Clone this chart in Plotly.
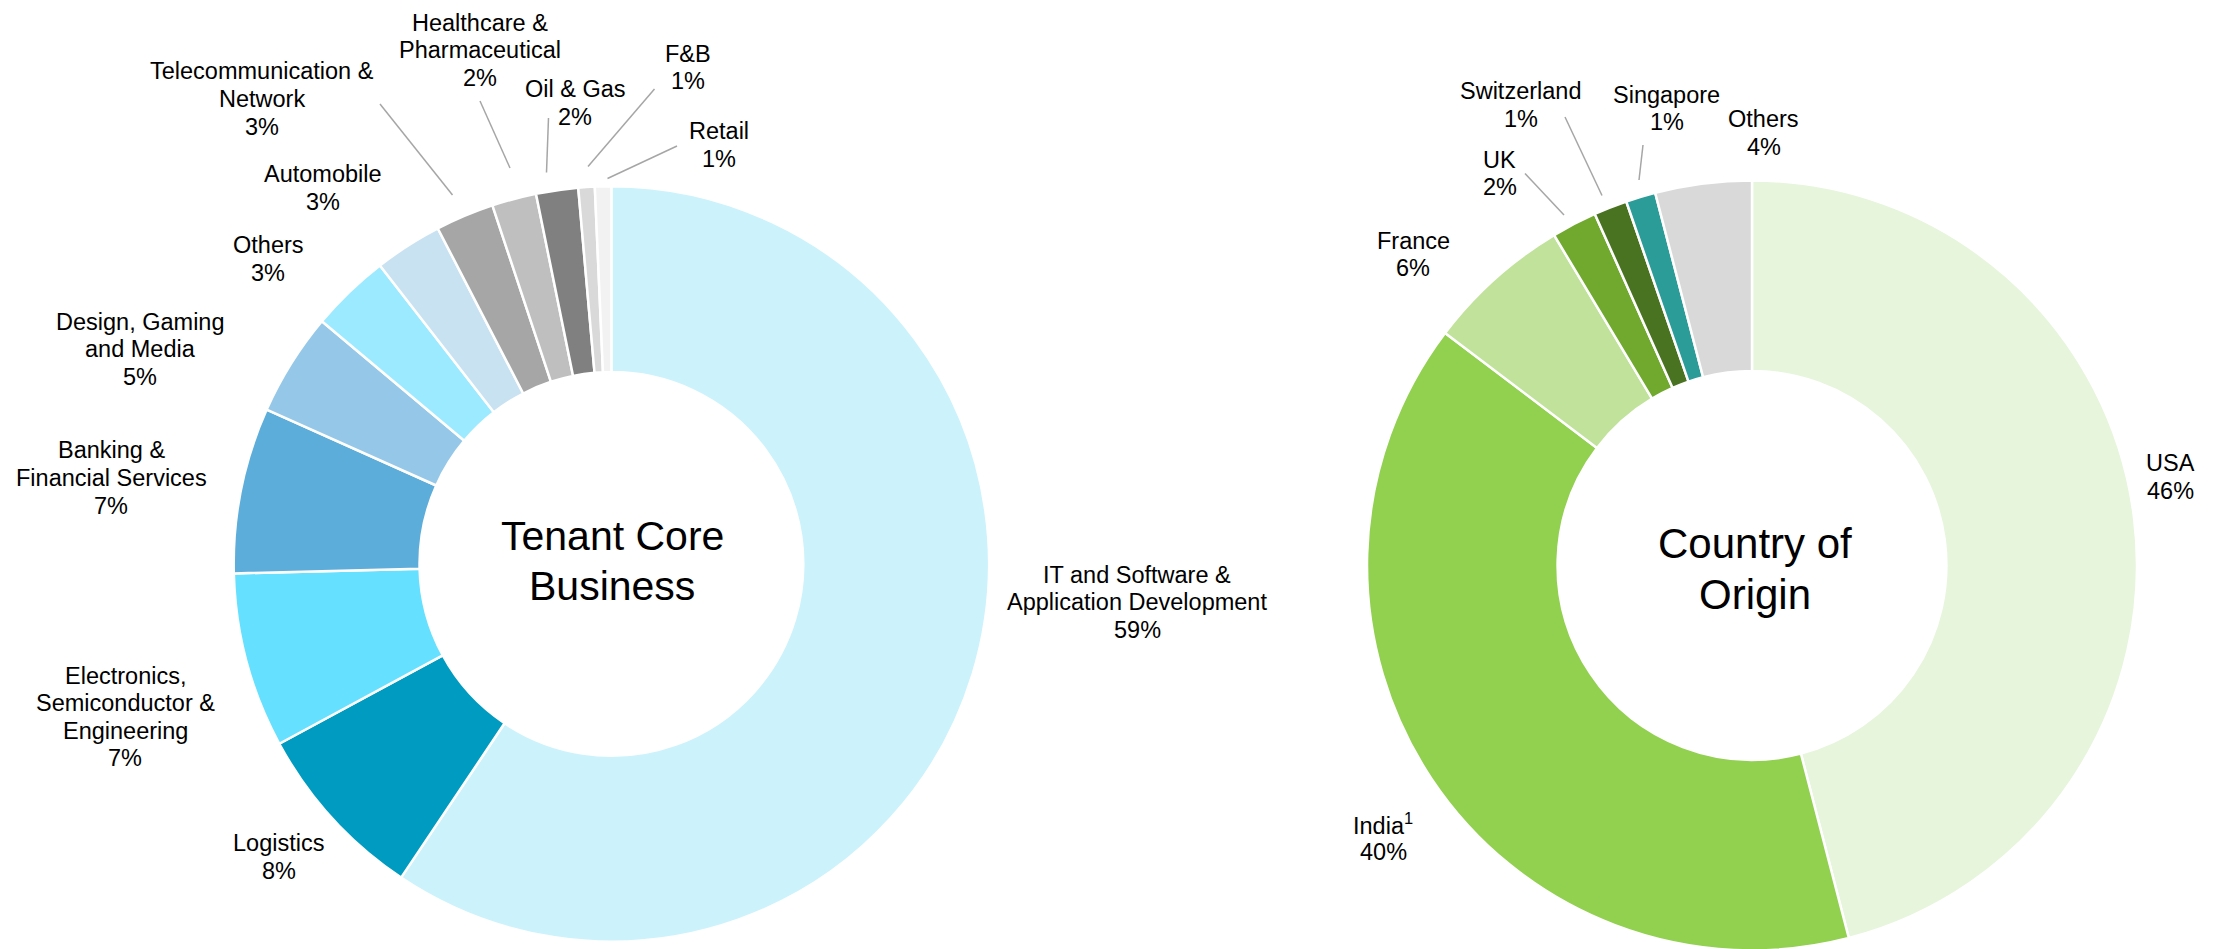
import plotly.graph_objects as go

W, H = 2213, 949
PAGE_OFFSET = 8  # browser body margin shifts the figure by 8px
FONT = "Liberation Sans, Arial, sans-serif"

# ---------------------------------------------------------------------------
# Data
# ---------------------------------------------------------------------------

business_labels = [
    "IT and Software & Application Development", "Logistics",
    "Electronics, Semiconductor & Engineering", "Banking & Financial Services",
    "Design, Gaming and Media", "Others", "Automobile",
    "Telecommunication & Network", "Healthcare & Pharmaceutical",
    "Oil & Gas", "F&B", "Retail",
]
business_values = [59.4, 7.7, 7.5, 7.1, 4.4, 3.4, 2.9, 2.5, 1.9, 1.8, 0.7, 0.7]
business_pct = ["59%", "8%", "7%", "7%", "5%", "3%", "3%", "3%", "2%", "2%", "1%", "1%"]
business_text = [
    "IT and Software &<br>Application Development", "Logistics",
    "Electronics,<br>Semiconductor &<br>Engineering", "Banking &<br>Financial Services",
    "Design, Gaming<br>and Media", "Others", "Automobile",
    "Telecommunication &<br>Network", "Healthcare &<br>Pharmaceutical",
    "Oil & Gas", "F&B", "Retail",
]
business_colors = [
    "#CCF2FC", "#009BC0", "#66E0FF", "#5DADDB", "#95C8E8", "#9BEAFF",
    "#C8E2F2", "#A6A6A6", "#BFBFBF", "#808080", "#D9D9D9", "#F2F2F2",
]

country_labels = ["USA", "India", "France", "UK", "Switzerland", "Singapore", "Others"]
country_values = [46.0, 39.4, 6.1, 1.9, 1.4, 1.25, 4.05]
country_pct = ["46%", "40%", "6%", "2%", "1%", "1%", "4%"]
country_text = ["USA", "India<sup>1</sup>", "France", "UK", "Switzerland", "Singapore", "Others"]
country_colors = ["#E7F5DC", "#92D050", "#C0E29A", "#70A92E", "#4A7321", "#2C9C98", "#D9D9D9"]

# ---------------------------------------------------------------------------
# Layout (screen pixel positions of label blocks and leader lines)
# ---------------------------------------------------------------------------

business_label_pos = [
    (1137, 602), (278.5, 857), (125, 717), (111, 478), (140, 349), (268, 259),
    (323, 188), (262, 99), (480, 50), (575, 103), (687.5, 67.5), (719, 145),
]
country_label_pos = [
    (2170, 477), (1383, 838), (1413, 254.5), (1499.5, 173.5), (1520.5, 105),
    (1666.5, 108.5), (1763.5, 133),
]
leader_lines = [
    ((380, 104), (452.5, 195)),
    ((480, 101), (510, 168)),
    ((548.5, 118), (546.5, 172.5)),
    ((654.5, 89), (588, 166.5)),
    ((677, 146), (607.5, 178.5)),
    ((1525, 173.5), (1564, 215)),
    ((1565, 117), (1602, 195.5)),
    ((1643, 145), (1639, 180)),
]


def px(x):
    return (x - PAGE_OFFSET) / W


def py(y):
    return 1 - (y - PAGE_OFFSET) / H


def domain(cx, cy, r):
    return dict(x=[px(cx - r), px(cx + r)], y=[max(py(cy + r), 0), min(py(cy - r), 1)])


def text_block(text, x, y, size, spacing):
    """One annotation per line so the line spacing matches the original."""
    lines = text.split("<br>")
    n = len(lines)
    out = []
    for i, line in enumerate(lines):
        out.append(dict(
            text=line, x=px(x), y=py(y + (i - (n - 1) / 2) * spacing),
            xref="paper", yref="paper", xanchor="center", yanchor="middle",
            showarrow=False, font=dict(family=FONT, size=size, color="#000000"),
        ))
    return out


fig = go.Figure()
fig.add_trace(go.Pie(
    labels=business_labels, values=business_values,
    marker=dict(colors=business_colors, line=dict(color="white", width=2.5)),
    hole=0.508, sort=False, direction="clockwise", rotation=0,
    textinfo="none", domain=domain(611.4, 563.9, 377.7), showlegend=False,
))
fig.add_trace(go.Pie(
    labels=country_labels, values=country_values,
    marker=dict(colors=country_colors, line=dict(color="white", width=2.5)),
    hole=0.505, sort=False, direction="clockwise", rotation=0,
    textinfo="none", domain=domain(1752, 565.4, 385), showlegend=False,
))

annotations = []
for txt, pct, (x, y) in list(zip(business_text, business_pct, business_label_pos)) + \
        list(zip(country_text, country_pct, country_label_pos)):
    annotations += text_block(f"{txt}<br>{pct}", x, y, 23.5, 27.5)
annotations += text_block("Tenant Core<br>Business", 612.4, 561, 41, 50)
annotations += text_block("Country of<br>Origin", 1755, 569, 42, 51.5)

shapes = [
    dict(type="line", xref="paper", yref="paper",
         x0=px(a[0]), y0=py(a[1]), x1=px(b[0]), y1=py(b[1]),
         line=dict(color="#A6A6A6", width=1.5))
    for a, b in leader_lines
]

fig.update_layout(
    width=W, height=H,
    margin=dict(t=0, b=0, l=0, r=0),
    paper_bgcolor="white", plot_bgcolor="white",
    annotations=annotations, shapes=shapes,
)
fig.write_html("out.html")
